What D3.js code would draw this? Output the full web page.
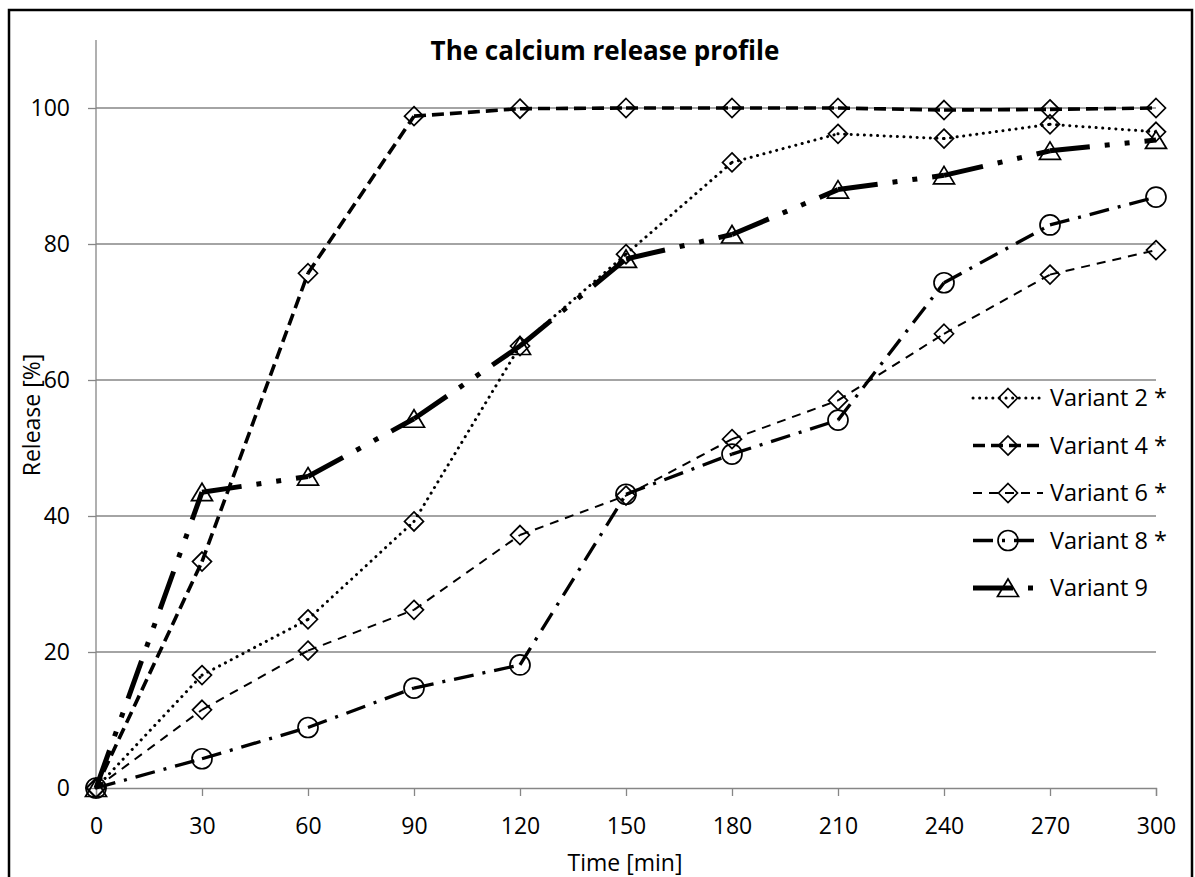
<!DOCTYPE html>
<html>
<head>
<meta charset="utf-8">
<script src="https://cdn.jsdelivr.net/npm/d3@7"></script>
<style>
  body { margin: 0; background: #fff; }
  text { font-family: "Open Sans", sans-serif; fill: #000; }
</style>
</head>
<body>
<div id="chart"></div>
<script>
// data
var times = [0, 30, 60, 90, 120, 150, 180, 210, 240, 270, 300];
var seriesNames = ["Variant 2 *", "Variant 4 *", "Variant 6 *", "Variant 8 *", "Variant 9"];
var variant2 = [0, 16.6, 24.8, 39.2, 65.0, 78.5, 92.0, 96.2, 95.5, 97.6, 96.5];
var variant4 = [0, 33.3, 75.7, 98.8, 99.9, 100, 100, 100, 99.7, 99.8, 100];
var variant6 = [0, 11.5, 20.2, 26.2, 37.2, 43.0, 51.3, 57.0, 66.8, 75.5, 79.1];
var variant8 = [0, 4.3, 8.9, 14.7, 18.1, 43.2, 49.1, 54.1, 74.3, 82.8, 86.9];
var variant9 = [0, 43.5, 45.8, 54.3, 65.0, 77.8, 81.4, 88.0, 90.1, 93.7, 95.3];
var yTicks = [0, 20, 40, 60, 80, 100];

var allSeries = [variant2, variant4, variant6, variant8, variant9];

// line and marker look for each series
var looks = [
  { width: 3, dash: "0.1 6.5", cap: "round", marker: "diamond" },
  { width: 3.6, dash: "12 6", cap: "butt", marker: "diamond" },
  { width: 2, dash: "9 7", cap: "butt", marker: "diamond" },
  { width: 3.3, dash: "20 9 3 9", cap: "butt", marker: "circle" },
  { width: 5, dash: "40 15 5 15 5 15", cap: "butt", marker: "triangle" }
];

var svgWidth = 1195;
var svgHeight = 877;

var margin = { top: 108, right: 39, bottom: 89, left: 96 };
var width = svgWidth - margin.left - margin.right;
var height = svgHeight - margin.top - margin.bottom;

var svg = d3.select("#chart")
  .append("svg")
  .attr("width", svgWidth)
  .attr("height", svgHeight);

// outer frame
svg.append("rect")
  .attr("x", 9)
  .attr("y", 10)
  .attr("width", 1183)
  .attr("height", 880)
  .attr("fill", "none")
  .attr("stroke", "#000")
  .attr("stroke-width", 2.5);

var chartGroup = svg.append("g")
  .attr("transform", `translate(${margin.left}, ${margin.top})`);

var xScale = d3.scaleLinear().domain([0, 300]).range([0, width]);
// axis runs up to 110 although the last label is 100
var yScale = d3.scaleLinear().domain([0, 100]).range([height, 0]);
var yTop = yScale(110);

var gridColor = "#868686";

// gridlines
chartGroup.append("g")
  .selectAll("line")
  .data(yTicks.slice(1))
  .enter()
  .append("line")
  .attr("x1", 0)
  .attr("x2", width)
  .attr("y1", d => yScale(d))
  .attr("y2", d => yScale(d))
  .attr("stroke", gridColor)
  .attr("stroke-width", 1.3);

// y axis
var leftAxis = d3.axisLeft(yScale).tickValues(yTicks).tickSize(8).tickPadding(18);
var yAxis = chartGroup.append("g").call(leftAxis);
yAxis.select(".domain").remove();
yAxis.append("line")
  .attr("x1", 0).attr("x2", 0)
  .attr("y1", yTop).attr("y2", height)
  .attr("stroke", gridColor).attr("stroke-width", 1.3);

// x axis
var bottomAxis = d3.axisBottom(xScale).tickValues(times).tickSize(8).tickSizeOuter(8).tickPadding(22);
var xAxis = chartGroup.append("g")
  .attr("transform", `translate(0, ${height})`)
  .call(bottomAxis);

chartGroup.selectAll(".tick line, .domain")
  .attr("stroke", gridColor)
  .attr("stroke-width", 1.3);
chartGroup.selectAll(".tick text")
  .style("font-size", "23px")
  .attr("fill", "#000");

// markers
function markerPath(kind) {
  if (kind === "diamond") return "M0,-9.5L9.5,0L0,9.5L-9.5,0Z";
  if (kind === "triangle") return "M0,-9L10.5,8.5L-10.5,8.5Z";
  return d3.symbol().type(d3.symbolCircle).size(Math.PI * 100)();
}

var line = d3.line()
  .x(d => xScale(d[0]))
  .y(d => yScale(d[1]));

allSeries.forEach(function(values, s) {
  var look = looks[s];
  var pts = times.map((t, i) => [t, values[i]]);
  var g = chartGroup.append("g");

  // one path per segment so the dash pattern restarts at each point
  g.selectAll("path.seg")
    .data(d3.pairs(pts))
    .enter()
    .append("path")
    .attr("class", "seg")
    .attr("d", d => line(d))
    .attr("fill", "none")
    .attr("stroke", "#000")
    .attr("stroke-width", look.width)
    .attr("stroke-dasharray", look.dash)
    .attr("stroke-linecap", look.cap);

  g.selectAll("path.mark")
    .data(pts)
    .enter()
    .append("path")
    .attr("class", "mark")
    .attr("transform", d => `translate(${xScale(d[0])}, ${yScale(d[1])})`)
    .attr("d", markerPath(look.marker))
    .attr("fill", "none")
    .attr("stroke", "#000")
    .attr("stroke-width", 1.7);
});

// legend
var legend = svg.append("g").attr("transform", "translate(973, 398)");
seriesNames.forEach(function(name, s) {
  var look = looks[s];
  var row = legend.append("g").attr("transform", `translate(0, ${s * 47.5})`);
  row.append("line")
    .attr("x1", 0).attr("x2", 70)
    .attr("y1", 0).attr("y2", 0)
    .attr("stroke", "#000")
    .attr("stroke-width", look.width)
    .attr("stroke-dasharray", look.dash)
    .attr("stroke-linecap", look.cap);
  row.append("path")
    .attr("transform", "translate(35, 0)")
    .attr("d", markerPath(look.marker))
    .attr("fill", "none")
    .attr("stroke", "#000")
    .attr("stroke-width", 1.7);
  row.append("text")
    .attr("x", 77)
    .attr("y", 0)
    .attr("dy", "0.35em")
    .style("font-size", "23.5px")
    .text(name);
});

// title and axis titles
svg.append("text")
  .attr("x", 605)
  .attr("y", 60)
  .attr("text-anchor", "middle")
  .style("font-size", "26px")
  .style("font-weight", "bold")
  .text("The calcium release profile");

svg.append("text")
  .attr("x", 625)
  .attr("y", 871)
  .attr("text-anchor", "middle")
  .style("font-size", "23px")
  .text("Time [min]");

svg.append("text")
  .attr("transform", "translate(40, 415) rotate(-90)")
  .attr("text-anchor", "middle")
  .style("font-size", "23px")
  .text("Release [%]");
</script>
</body>
</html>
